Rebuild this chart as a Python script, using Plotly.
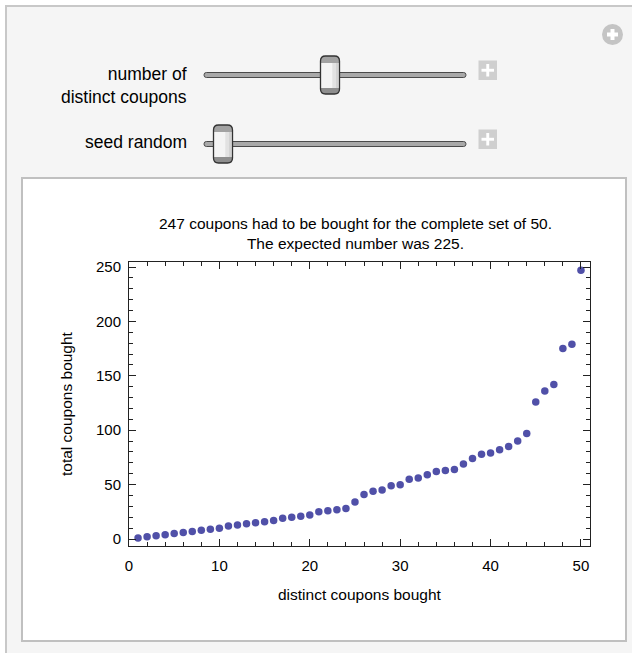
import plotly.graph_objects as go

# ---- data ----
distinct_bought = list(range(1, 51))
total_bought = [1, 2, 3, 4, 5, 6, 7, 8, 9, 10,
                12, 13, 14, 15, 16, 17, 19, 20, 21, 22,
                25, 26, 27, 28, 34, 41, 44, 45, 49, 50,
                55, 56, 59, 62, 63, 64, 69, 74, 78, 79,
                82, 85, 90, 97, 126, 136, 142, 175, 179, 247]
x_ticks = [0, 10, 20, 30, 40, 50]
y_ticks = [0, 50, 100, 150, 200, 250]
title_text = "247 coupons had to be bought for the complete set of 50.<br>The expected number was 225."
x_title = "distinct coupons bought"
y_title = "total coupons bought"
slider_labels = ["number of<br>distinct coupons", "seed random"]

# ---- geometry (pixels) ----
W, H = 632, 653
L, R, T, B = 129, 590, 262, 546
FONT = "Liberation Sans, Arial, Helvetica, sans-serif"


def px(x):
    return (x - L) / (R - L)


def py(y):
    return (B - y) / (B - T)


def rrect_path(x0, y0, x1, y1, r, top=True, bottom=True):
    pts = []
    if top:
        pts.append(f"M{px(x0)},{py(y0 + r)}")
        pts.append(f"Q{px(x0)},{py(y0)} {px(x0 + r)},{py(y0)}")
        pts.append(f"L{px(x1 - r)},{py(y0)}")
        pts.append(f"Q{px(x1)},{py(y0)} {px(x1)},{py(y0 + r)}")
    else:
        pts.append(f"M{px(x0)},{py(y0)}")
        pts.append(f"L{px(x1)},{py(y0)}")
    if bottom:
        pts.append(f"L{px(x1)},{py(y1 - r)}")
        pts.append(f"Q{px(x1)},{py(y1)} {px(x1 - r)},{py(y1)}")
        pts.append(f"L{px(x0 + r)},{py(y1)}")
        pts.append(f"Q{px(x0)},{py(y1)} {px(x0)},{py(y1 - r)}")
    else:
        pts.append(f"L{px(x1)},{py(y1)}")
        pts.append(f"L{px(x0)},{py(y1)}")
    pts.append("Z")
    return " ".join(pts)


shapes = []


def rect(x0, y0, x1, y1, fill, line=None, lw=0, layer="above"):
    shapes.append(dict(type="rect", xref="paper", yref="paper",
                       x0=px(x0), x1=px(x1), y0=py(y1), y1=py(y0),
                       fillcolor=fill, line=dict(color=line or fill, width=lw),
                       layer=layer))


def path(p, fill, line=None, lw=0, layer="above"):
    shapes.append(dict(type="path", xref="paper", yref="paper", path=p,
                       fillcolor=fill, line=dict(color=line or fill, width=lw),
                       layer=layer))


# panel background
rect(6, 6, 640, 660, "#f5f5f5", "#c8c8c8", 2, layer="below")
# inner white box
rect(22, 178, 626, 641, "#ffffff", "#c0c0c0", 2, layer="below")

# circle icon top right
shapes.append(dict(type="circle", xref="paper", yref="paper",
                   x0=px(602), x1=px(623), y0=py(45), y1=py(24),
                   fillcolor="#c4c4c4", line=dict(color="#c4c4c4", width=0)))
rect(610.5, 29, 614.5, 40, "#ffffff")
rect(607, 32.5, 618, 36.5, "#ffffff")


def slider(yc, tx0, tx1):
    # track
    path(rrect_path(204, yc - 2.5, 466, yc + 2.5, 2.4), "#a9a9a9", "#4a4a4a", 1)
    # thumb
    ty0, ty1 = yc - 19, yc + 19
    path(rrect_path(tx0, ty0, tx1, ty1, 5), "#f4f4f4", "#333333", 0)
    rect(tx0 + (tx1 - tx0) * 0.62, ty0 + 7, tx1 - 1, ty1 - 6, "#e2e2e2")
    rect(tx0 + (tx1 - tx0) * 0.82, ty0 + 7, tx1 - 1, ty1 - 6, "#d2d2d2")
    path(rrect_path(tx0, ty0, tx1, ty0 + 7, 5, top=True, bottom=False), "#a2a2a2")
    path(rrect_path(tx0, ty1 - 6, tx1, ty1, 5, top=False, bottom=True), "#8e8e8e")
    path(rrect_path(tx0, ty0, tx1, ty1, 5), "rgba(0,0,0,0)", "#333333", 1.3)
    # plus box
    by = yc - 14.5
    rect(478.5, by, 497, by + 19.5, "#cfcfcf")
    rect(486.3, by + 3.5, 489.2, by + 16, "#ffffff")
    rect(481.5, by + 8.3, 494, by + 11.2, "#ffffff")


slider(75, 320.5, 339.5)
slider(144, 213.5, 232.5)

annotations = [
    dict(text=title_text, xref="paper", yref="paper", x=px(355), y=py(233),
         xanchor="center", yanchor="middle", showarrow=False,
         font=dict(family=FONT, size=15.5, color="#000")),
    dict(text=x_title, xref="paper", yref="paper", x=px(360), y=py(594),
         xanchor="center", yanchor="middle", showarrow=False,
         font=dict(family=FONT, size=15.5, color="#000")),
    dict(text=y_title, xref="paper", yref="paper", x=px(66), y=py(404),
         xanchor="center", yanchor="middle", showarrow=False, textangle=-90,
         font=dict(family=FONT, size=15.5, color="#000")),
    dict(text=slider_labels[0], xref="paper", yref="paper", x=px(189), y=py(86),
         xanchor="right", yanchor="middle", align="right", showarrow=False,
         font=dict(family=FONT, size=17.5, color="#000")),
    dict(text=slider_labels[1], xref="paper", yref="paper", x=px(189), y=py(142),
         xanchor="right", yanchor="middle", align="right", showarrow=False,
         font=dict(family=FONT, size=17.5, color="#000")),
]

fig = go.Figure()
fig.add_trace(go.Scatter(
    x=distinct_bought, y=total_bought, mode="markers",
    marker=dict(color="rgb(80,80,168)", size=7.5, line=dict(width=0)),
    hoverinfo="x+y", showlegend=False))

axis_common = dict(showline=True, linecolor="#222", linewidth=1, mirror="ticks",
                   ticks="inside", tickcolor="#222", tickwidth=1, ticklen=7,
                   showgrid=False, zeroline=False,
                   tickfont=dict(family=FONT, size=15, color="#000"))

fig.update_xaxes(range=[0, 51], tickvals=x_ticks, ticklabelstandoff=6,
                 minor=dict(ticks="inside", ticklen=4, dtick=2, tick0=0,
                            tickcolor="#222", showgrid=False),
                 **axis_common)
fig.update_yaxes(range=[-6.4, 254.6], tickvals=y_ticks, ticklabelstandoff=4,
                 minor=dict(ticks="inside", ticklen=4, dtick=10, tick0=0,
                            tickcolor="#222", showgrid=False),
                 **axis_common)

fig.update_layout(
    width=W, height=H, autosize=False,
    margin=dict(l=L, r=W - R, t=T, b=H - B, pad=0),
    paper_bgcolor="#ffffff", plot_bgcolor="#ffffff",
    shapes=shapes, annotations=annotations,
    font=dict(family=FONT, color="#000"),
)

fig.write_html("out.html", config={"displayModeBar": False},
               post_script="document.body.style.margin='0';document.body.style.overflow='hidden';")
